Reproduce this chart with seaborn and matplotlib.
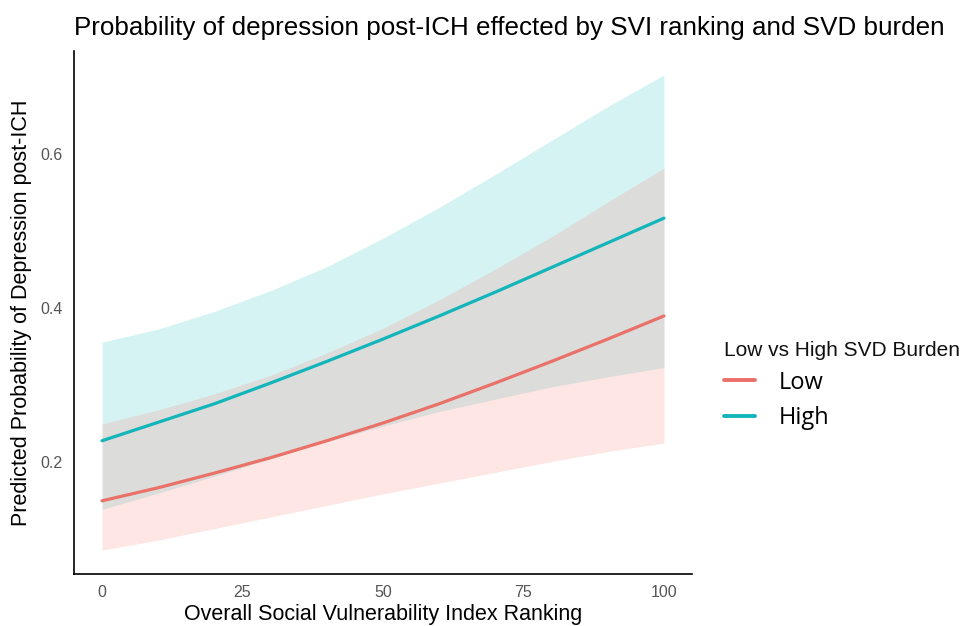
import pandas as pd
import numpy as np
import matplotlib
matplotlib.use("Agg")
import matplotlib.pyplot as plt
from matplotlib.lines import Line2D
import seaborn as sns

# values
svi = [0, 10, 20, 30, 40, 50, 60, 70, 80, 90, 100]
low_fit = [0.150, 0.167, 0.186, 0.206, 0.228, 0.251, 0.276, 0.303, 0.331, 0.360, 0.390]
low_lower = [0.086, 0.099, 0.114, 0.129, 0.144, 0.159, 0.173, 0.187, 0.201, 0.214, 0.225]
low_upper = [0.250, 0.268, 0.289, 0.313, 0.342, 0.374, 0.411, 0.451, 0.493, 0.538, 0.582]
high_fit = [0.228, 0.252, 0.276, 0.303, 0.331, 0.360, 0.390, 0.421, 0.453, 0.485, 0.517]
high_lower = [0.139, 0.160, 0.182, 0.205, 0.227, 0.247, 0.266, 0.282, 0.298, 0.311, 0.323]
high_upper = [0.356, 0.373, 0.396, 0.423, 0.454, 0.491, 0.531, 0.574, 0.618, 0.662, 0.703]
groups = ["Low", "High"]
colors = {"Low": "#EA7168", "High": "#12B5B9"}
ribbon_colors = {"Low": "#F8766D", "High": "#1CBFC6"}

df = pd.concat([
    pd.DataFrame({"svi": svi, "prob": low_fit, "lo": low_lower, "hi": low_upper, "burden": "Low"}),
    pd.DataFrame({"svi": svi, "prob": high_fit, "lo": high_lower, "hi": high_upper, "burden": "High"}),
])

sns.set_style("white")
plt.rcParams['font.family'] = ['Liberation Sans', 'DejaVu Sans']

fig = plt.figure(figsize=(9.66, 6.26), dpi=100)
ax = fig.add_axes([0.0766, 0.0831, 0.6398, 0.8354])

# confidence ribbons (High first so the overlap turns grey)
for g in ["High", "Low"]:
    sub = df[df["burden"] == g]
    ax.fill_between(sub["svi"], sub["lo"], sub["hi"], color=ribbon_colors[g], alpha=0.18, linewidth=0)

sns.lineplot(data=df, x="svi", y="prob", hue="burden", palette=colors,
             hue_order=groups, linewidth=2.3, legend=False, ax=ax)

ax.set_xlim(-5, 105)
ax.set_ylim(0.055, 0.734)
ax.set_xticks([0, 25, 50, 75, 100])
ax.set_yticks([0.2, 0.4, 0.6])
ax.set_yticklabels(["0.2", "0.4", "0.6"])
ax.tick_params(axis="both", colors="#333333", labelcolor="#555555", labelsize=11.5,
               length=4, width=0.8, direction="out", pad=4)

for side in ["top", "right"]:
    ax.spines[side].set_visible(False)
for side in ["left", "bottom"]:
    ax.spines[side].set_color("black")
    ax.spines[side].set_linewidth(1.2)

ax.set_xlabel("Overall Social Vulnerability Index Ranking", fontsize=15.5, color="black", labelpad=3)
ax.set_ylabel("Predicted Probability of Depression post-ICH", fontsize=15.5, color="black", labelpad=6)

fig.text(0.0766, 0.955, "Probability of depression post-ICH effected by SVI ranking and SVD burden",
         fontsize=18.7, ha="left", va="center", color="black")

handles = [Line2D([0], [0], color=colors[g], linewidth=2.8) for g in groups]
leg = fig.legend(handles, groups, title="Low vs High SVD Burden", loc="upper left",
                 bbox_to_anchor=(0.728, 0.49), frameon=False, handlelength=1.3,
                 handletextpad=1.0, labelspacing=0.5, alignment="left",
                 prop={"family": "Open Sans", "size": 17})
leg.get_title().set_fontsize(15)
leg.get_title().set_color("#111111")
leg._legend_box.sep = 8
for t in leg.get_texts():
    t.set_color("black")

fig.savefig("out.png", dpi=100)
